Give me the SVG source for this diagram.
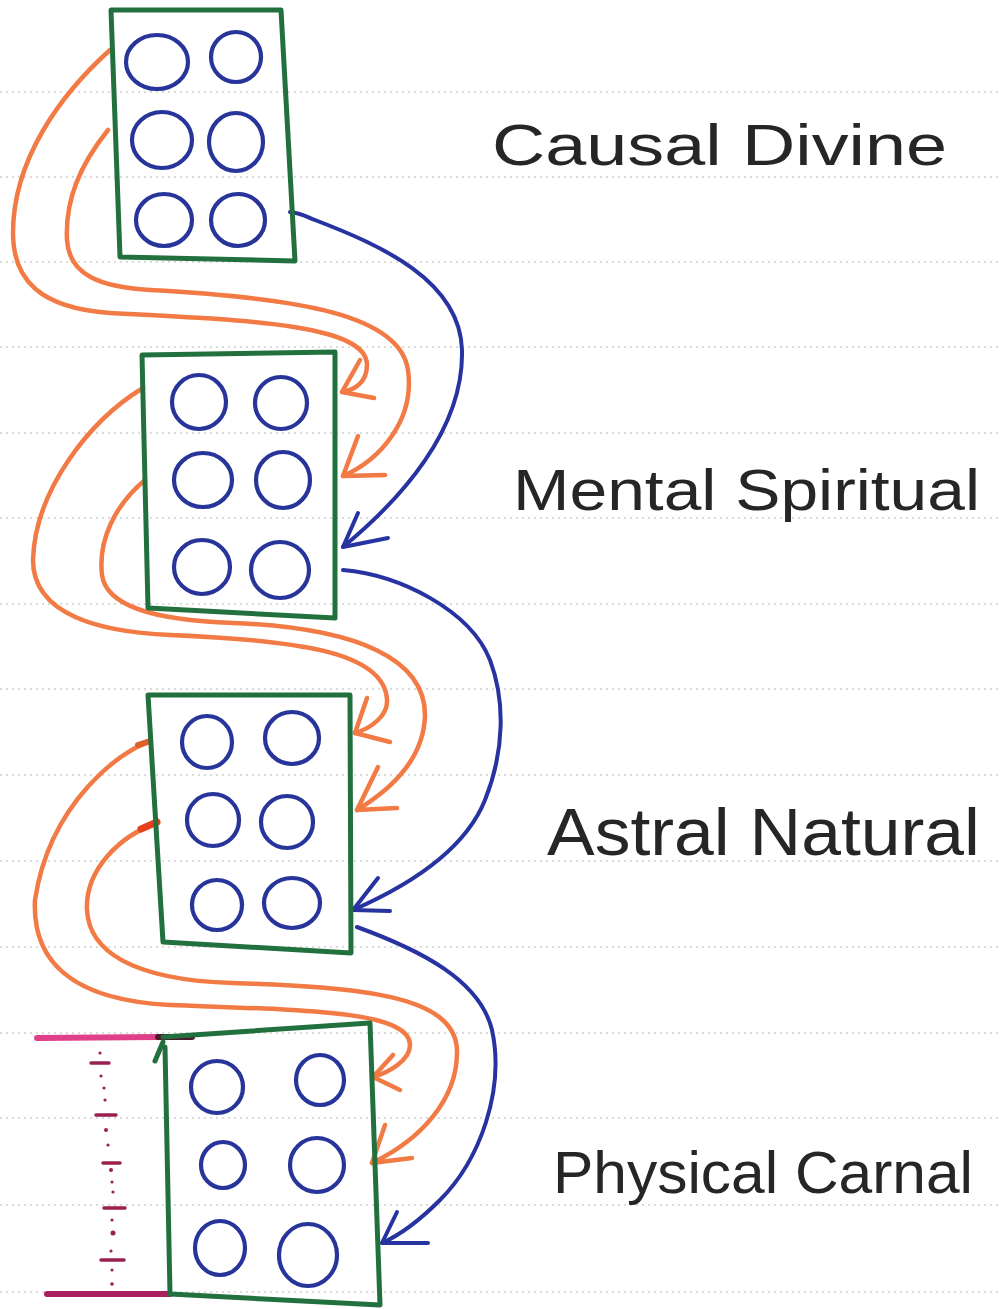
<svg xmlns="http://www.w3.org/2000/svg" width="1001" height="1309" viewBox="0 0 1001 1309">
<style>
.rule{stroke:#cfcfcf;stroke-width:1.6;stroke-dasharray:2 4;fill:none}
.box{fill:none;stroke:#23703f;stroke-width:5;stroke-linejoin:round;stroke-linecap:round}
.dot{fill:none;stroke:#27359a;stroke-width:4.2}
.or{fill:none;stroke:#f27a44;stroke-width:4.5;stroke-linecap:round;stroke-linejoin:round}
.bl{fill:none;stroke:#2633a0;stroke-width:4;stroke-linecap:round;stroke-linejoin:round}
.lbl{font-family:"Liberation Sans",Arial,sans-serif;fill:#262626;}
</style>
<rect width="1001" height="1309" fill="#ffffff"/>
<g id="ruled-lines">
<line class="rule" x1="0" y1="92" x2="1001" y2="92"/>
<line class="rule" x1="0" y1="177" x2="1001" y2="177"/>
<line class="rule" x1="0" y1="262" x2="1001" y2="262"/>
<line class="rule" x1="0" y1="347" x2="1001" y2="347"/>
<line class="rule" x1="0" y1="433" x2="1001" y2="433"/>
<line class="rule" x1="0" y1="518" x2="1001" y2="518"/>
<line class="rule" x1="0" y1="604" x2="1001" y2="604"/>
<line class="rule" x1="0" y1="689" x2="1001" y2="689"/>
<line class="rule" x1="0" y1="775" x2="1001" y2="775"/>
<line class="rule" x1="0" y1="861" x2="1001" y2="861"/>
<line class="rule" x1="0" y1="947" x2="1001" y2="947"/>
<line class="rule" x1="0" y1="1033" x2="1001" y2="1033"/>
<line class="rule" x1="0" y1="1118" x2="1001" y2="1118"/>
<line class="rule" x1="0" y1="1205" x2="1001" y2="1205"/>
<line class="rule" x1="0" y1="1292" x2="1001" y2="1292"/>
</g>
<g id="connectors">
<path class="or" d="M110,50 C60,95 13,160 13,233 C13,280 40,308 110,313 C250,320 367,325 367,365 C367,382 355,390 342,392"/>
<path class="or" d="M360,360 L342,392 L374,398"/>
<path class="or" d="M108,130 C80,165 65,200 67,240 C69,275 100,287 150,290 C300,298 400,315 408,370 C415,420 380,460 343,476"/>
<path class="or" d="M358,436 L343,476 L385,475"/>
<path class="or" d="M143,388 C90,420 35,490 33,560 C33,615 100,632 170,635 C290,640 385,650 387,700 C388,715 372,728 355,733"/>
<path class="or" d="M367,698 L355,733 L390,742"/>
<path class="or" d="M145,480 C115,505 98,540 102,575 C106,605 150,620 233,623 C360,628 425,660 425,715 C424,760 390,790 357,810"/>
<path class="or" d="M378,767 L357,810 L397,808"/>
<path class="or" d="M150,742 C125,748 50,800 35,900 C32,960 70,1000 170,1005 C300,1010 410,1010 410,1045 C410,1060 390,1072 373,1077"/>
<path class="or" d="M393,1055 L373,1077 L400,1090"/>
<path class="or" d="M158,823 C120,835 85,870 87,910 C89,950 130,980 233,983 C360,987 455,995 457,1050 C458,1100 420,1140 372,1163"/>
<path class="or" d="M385,1125 L372,1163 L412,1158"/>
<path d="M141,829 L157,822" stroke="#e8401c" stroke-width="7" stroke-linecap="round" fill="none"/>
<path d="M138,745 L150,741" stroke="#e0602a" stroke-width="6" stroke-linecap="round" fill="none"/>
<path class="bl" d="M290,212 C300,213 305,216 315,220 C380,245 460,280 462,350 C464,430 400,500 343,547"/>
<path class="bl" d="M358,513 L343,547 L388,538"/>
<path class="bl" d="M343,570 C400,575 470,610 490,660 C505,700 505,750 485,800 C465,850 410,885 353,910"/>
<path class="bl" d="M378,878 L353,910 L390,911"/>
<path class="bl" d="M357,927 C420,950 480,980 492,1030 C505,1090 480,1160 440,1200 C420,1220 400,1235 382,1243"/>
<path class="bl" d="M397,1212 L382,1243 L428,1243"/>
</g>
<g id="node-causal-divine">
<path class="box" d="M111,10 L281,10 L295,261 L120,257 Z"/>
<ellipse class="dot" cx="157" cy="62" rx="31" ry="27"/>
<ellipse class="dot" cx="236" cy="57" rx="25" ry="25"/>
<ellipse class="dot" cx="162" cy="140" rx="30" ry="28"/>
<ellipse class="dot" cx="236" cy="142" rx="27" ry="29"/>
<ellipse class="dot" cx="164" cy="220" rx="28" ry="26"/>
<ellipse class="dot" cx="238" cy="220" rx="27" ry="26"/>
<text class="lbl" x="492" y="165" font-size="58" textLength="455" lengthAdjust="spacingAndGlyphs">Causal Divine</text>
</g>
<g id="node-mental-spiritual">
<path class="box" d="M142,355 L335,352 L335,618 L148,608 Z"/>
<ellipse class="dot" cx="199" cy="402" rx="27" ry="27"/>
<ellipse class="dot" cx="281" cy="403" rx="26" ry="26"/>
<ellipse class="dot" cx="203" cy="480" rx="29" ry="27"/>
<ellipse class="dot" cx="283" cy="480" rx="27" ry="28"/>
<ellipse class="dot" cx="202" cy="567" rx="28" ry="27"/>
<ellipse class="dot" cx="280" cy="570" rx="29" ry="28"/>
<text class="lbl" x="513" y="510" font-size="58" textLength="467" lengthAdjust="spacingAndGlyphs">Mental Spiritual</text>
</g>
<g id="node-astral-natural">
<path class="box" d="M148,695 L350,695 L351,953 L163,942 Z"/>
<ellipse class="dot" cx="207" cy="742" rx="25" ry="26"/>
<ellipse class="dot" cx="292" cy="738" rx="27" ry="26"/>
<ellipse class="dot" cx="213" cy="820" rx="26" ry="26"/>
<ellipse class="dot" cx="287" cy="822" rx="26" ry="26"/>
<ellipse class="dot" cx="217" cy="905" rx="25" ry="25"/>
<ellipse class="dot" cx="292" cy="903" rx="28" ry="25"/>
<text class="lbl" x="547" y="855" font-size="66" textLength="433" lengthAdjust="spacingAndGlyphs">Astral Natural</text>
</g>
<g id="node-physical-carnal">
<path d="M37,1038 L158,1037" stroke="#e0408a" stroke-width="6" stroke-linecap="round" fill="none"/>
<path d="M158,1037 L192,1037" stroke="#4a1a28" stroke-width="6" stroke-linecap="round" fill="none"/>
<path d="M47,1294 L170,1294" stroke="#a8205e" stroke-width="6" stroke-linecap="round" fill="none"/>
<g fill="#9a2050" stroke="none">
<circle cx="100" cy="1053" r="1.6"/><circle cx="101" cy="1076" r="1.6"/><circle cx="104" cy="1088" r="1.6"/><circle cx="105" cy="1100" r="1.6"/><circle cx="106" cy="1130" r="2"/><circle cx="108" cy="1145" r="1.6"/><circle cx="111" cy="1170" r="2"/><circle cx="112" cy="1182" r="1.6"/><circle cx="113" cy="1192" r="1.6"/><circle cx="112" cy="1220" r="1.6"/><circle cx="113" cy="1233" r="2.5"/><circle cx="111" cy="1251" r="1.6"/><circle cx="112" cy="1270" r="1.6"/><circle cx="112" cy="1284" r="1.8"/>
</g>
<g stroke="#9a2050" stroke-width="3.5" stroke-linecap="round">
<line x1="91" y1="1063" x2="109" y2="1063"/><line x1="96" y1="1115" x2="116" y2="1115"/><line x1="103" y1="1163" x2="120" y2="1163"/><line x1="104" y1="1208" x2="125" y2="1208"/><line x1="101" y1="1260" x2="124" y2="1260"/>
</g>
<path class="box" d="M163,1037 L370,1023 L380,1305 L170,1294 L165,1047"/>
<path class="box" d="M155,1061 L163,1042"/>
<ellipse class="dot" cx="217" cy="1087" rx="26" ry="26"/>
<ellipse class="dot" cx="320" cy="1080" rx="24" ry="25"/>
<ellipse class="dot" cx="223" cy="1165" rx="22" ry="23"/>
<ellipse class="dot" cx="317" cy="1165" rx="27" ry="27"/>
<ellipse class="dot" cx="220" cy="1248" rx="25" ry="27"/>
<ellipse class="dot" cx="308" cy="1255" rx="29" ry="31"/>
<text class="lbl" x="553" y="1193" font-size="60" textLength="420" lengthAdjust="spacingAndGlyphs">Physical Carnal</text>
</g>
</svg>
